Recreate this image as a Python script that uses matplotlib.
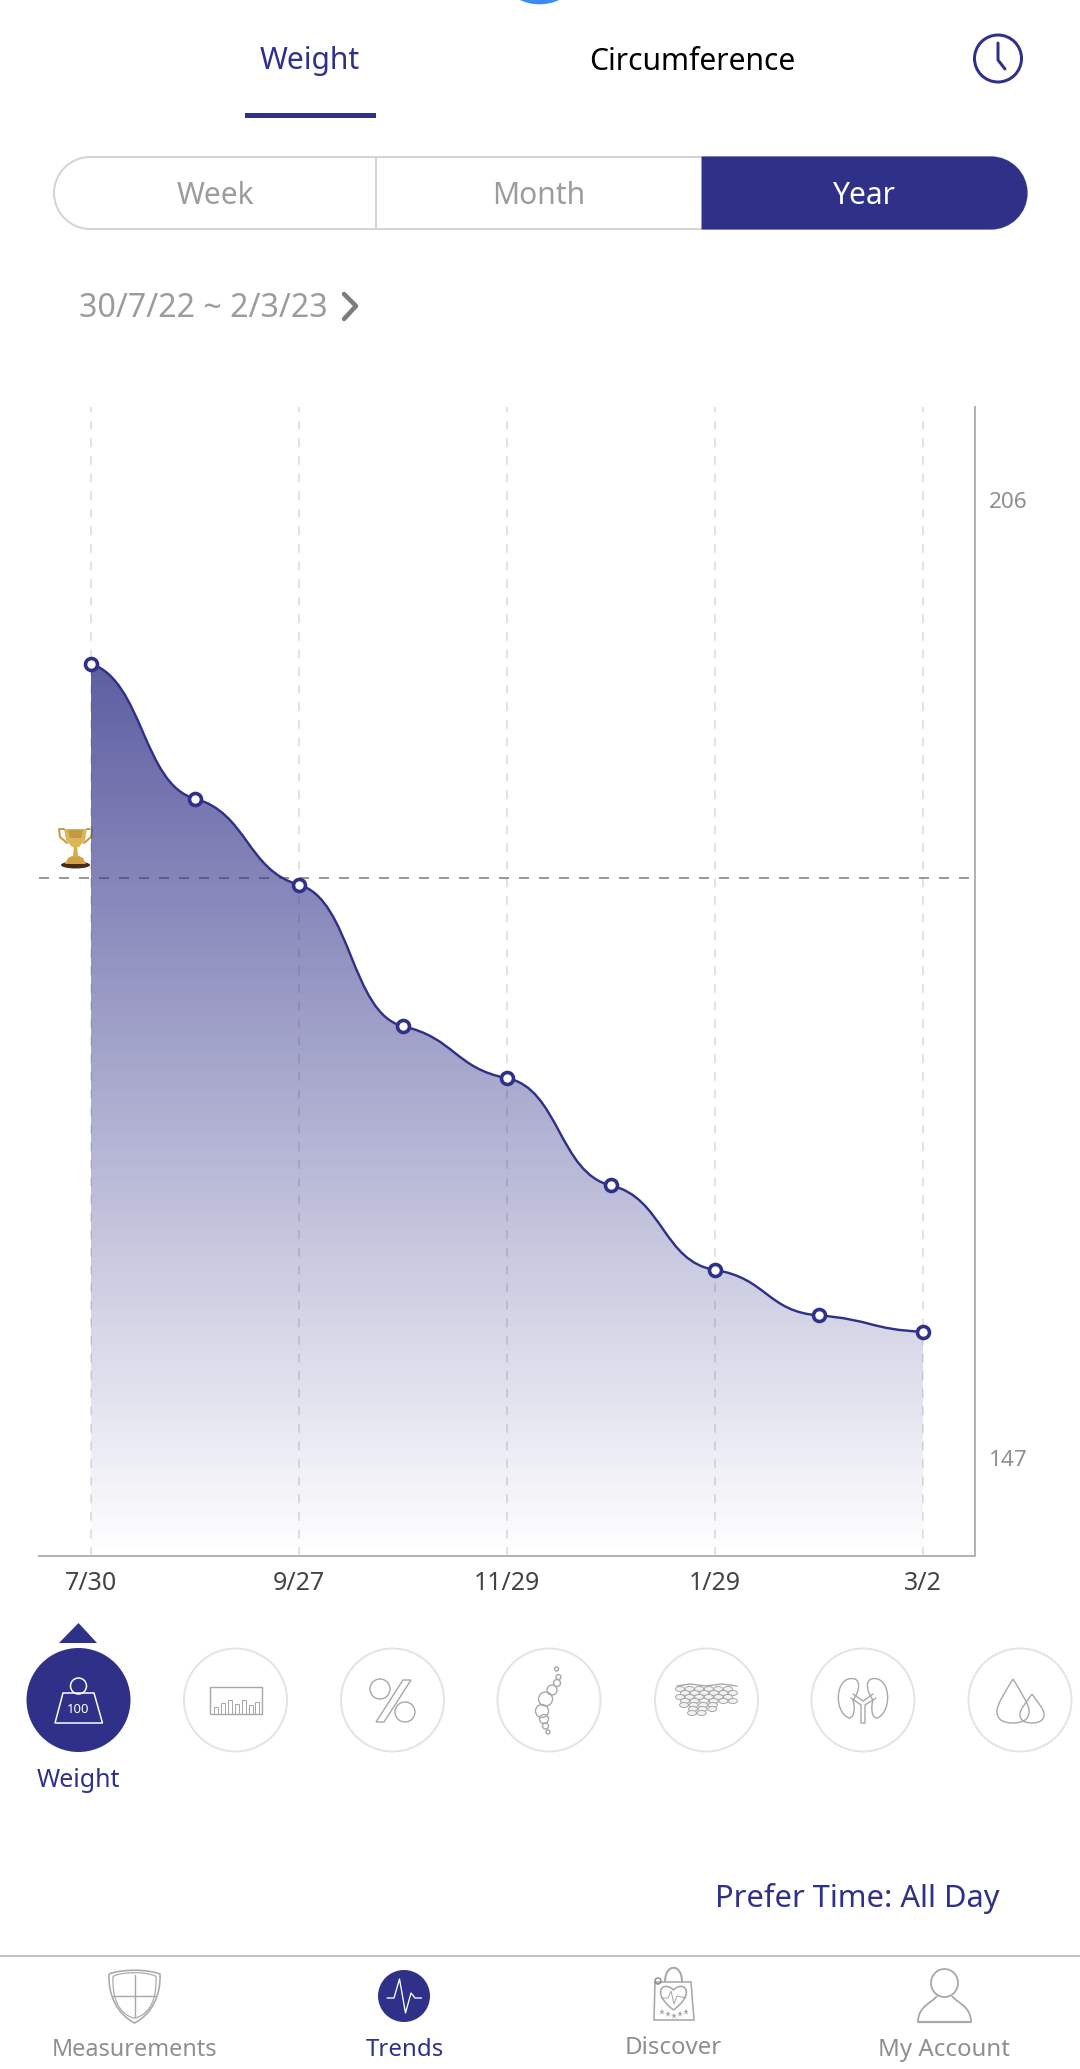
import numpy as np
import matplotlib
matplotlib.use('Agg')
import matplotlib.pyplot as plt
from matplotlib.patches import Circle, Ellipse, Polygon, PathPatch, Rectangle
from matplotlib.path import Path

plt.rcParams['font.family'] = ['Noto Sans', 'DejaVu Sans']

# chart data
dates = ['7/30', '', '9/27', '', '11/29', '', '1/29', '', '3/2']
weight = [195.9, 187.6, 182.3, 173.6, 170.4, 163.8, 158.6, 155.8, 154.8]
goal = 182.7
y_ticks = [147, 206]

tabs = ['Week', 'Month', 'Year']
nav_labels = ['Measurements', 'Trends', 'Discover', 'My Account']

navy = '#2f3088'
grey = '#8f8f8f'
line_grey = '#b4b4b4'
circle_grey = '#e4e4e4'
icon_grey = '#a8a8a8'

fig = plt.figure(figsize=(10.8, 20.69), dpi=100)

# whole page axes, in pixels, for the app chrome
ui = fig.add_axes([0, 0, 1, 1])
ui.set_xlim(0, 1080)
ui.set_ylim(2069, 0)
ui.axis('off')


def px(v):
    return v * 0.72


def label(x, y, s, size, color=grey, **kw):
    # Noto sits a little high when centred, so push it down
    ui.text(x, y + 2.5, s, fontsize=px(size), color=color, ha=kw.pop('ha', 'center'), va='center', **kw)


def stroke(xs, ys, color=icon_grey, w=1.4, **kw):
    ui.plot(xs, ys, color=color, lw=px(w), solid_capstyle='round', **kw)


def ring(x, y, r, color=icon_grey, w=1.4, face='none'):
    ui.add_patch(Circle((x, y), r, fc=face, ec=color, lw=px(w)))


def curve(verts, codes, fc='none', ec=icon_grey, w=1.4, **kw):
    ui.add_patch(PathPatch(Path(verts, codes), fc=fc, ec=ec, lw=px(w), **kw))


M, L, C, Z = Path.MOVETO, Path.LINETO, Path.CURVE4, Path.CLOSEPOLY

# top of the page
ui.add_patch(Circle((539.5, -42.5), 46.8, fc='#3a8cf5', ec='none'))
label(310, 58, 'Weight', 30, navy)
label(692, 60, 'Circumference', 30, 'black')
ui.add_patch(Rectangle((245, 113), 131, 5, fc=navy, ec='none'))
ring(998, 58.5, 23.5, navy, 3)
stroke([998, 998, 1005], [43, 60, 69], navy, 3)

# week / month / year switch
top, bot, left, right, k = 157, 229, 54, 1027, 36 * 0.55
pill = [(left + 36, top), (right - 36, top),
        (right - 36 + k * 1.0, top), (right, 193 - k), (right, 193),
        (right, 193 + k), (right - 36 + k, bot), (right - 36, bot),
        (left + 36, bot),
        (left + 36 - k, bot), (left, 193 + k), (left, 193),
        (left, 193 - k), (left + 36 - k, top), (left + 36, top)]
curve(pill, [M, L, C, C, C, C, C, C, L, C, C, C, C, C, C], ec='#d4d4d4', w=2)
stroke([376, 376], [top, bot], '#d4d4d4', 2)
curve([(702, top), (right - 36, top), (right - 36 + k, top), (right, 193 - k), (right, 193),
       (right, 193 + k), (right - 36 + k, bot), (right - 36, bot), (702, bot), (702, top)],
      [M, L, C, C, C, C, C, C, L, Z], fc=navy, ec=navy, w=1)
label(215, 194, tabs[0], 30, '#9c9c9c')
label(539, 194, tabs[1], 30, '#9c9c9c')
label(864, 194, tabs[2], 30, 'white')

label(79, 306, '30/7/22 ~ 2/3/23', 32.2, '#9c9c9c', ha='left')
stroke([344, 356, 344], [294, 306, 319], '#7c7c7c', 4.5)

# the chart itself
ax = fig.add_axes([39 / 1080, 1 - 1556 / 2069, (975 - 39) / 1080, (1556 - 407) / 2069])
ax.patch.set_alpha(0)
x = np.arange(len(weight))
y = np.array(weight)
y_low = 141.0
y_high = 211.7
ax.set_xlim(-0.5, 8.5)
ax.set_ylim(y_low, y_high)

for s in ['top', 'left']:
    ax.spines[s].set_visible(False)
for s in ['right', 'bottom']:
    ax.spines[s].set_color(line_grey)
    ax.spines[s].set_linewidth(px(2))

tick_pos = [i for i, d in enumerate(dates) if d]
ax.set_xticks(tick_pos, [dates[i] for i in tick_pos], fontsize=px(25), color='#444444')
ax.tick_params(axis='x', length=0, pad=px(15))
ax.yaxis.tick_right()
ax.set_yticks(y_ticks, [str(v) for v in y_ticks], fontsize=px(22.5), color=grey)
ax.tick_params(axis='y', length=0, pad=px(14))

ax.grid(axis='x', color='#dcdcdc', lw=px(1.6), dashes=(5.5, 5.5))
ax.set_axisbelow(True)
ax.axhline(goal, color='#9a9a9a', lw=px(2), dashes=(5, 5), zorder=1)

# smooth line: cubic segments that flatten out near every point
slope = np.gradient(y) * 0.25
verts = [(x[0], y[0])]
codes = [M]
for i in range(len(x) - 1):
    verts += [(x[i] + 0.5, y[i] + 0.5 * slope[i]),
              (x[i + 1] - 0.5, y[i + 1] - 0.5 * slope[i + 1]),
              (x[i + 1], y[i + 1])]
    codes += [C, C, C]
line = Path(verts, codes)
area = Path(verts + [(x[-1], y_low), (x[0], y_low), (x[0], y[0])], codes + [L, L, L])

shade = np.zeros((256, 1, 4))
shade[..., :3] = matplotlib.colors.to_rgb(navy)
shade[:, 0, 3] = np.linspace(0.78, 0, 256)
im = ax.imshow(shade, extent=(-0.5, 8.5, y_low, y[0]), origin='upper', aspect='auto', zorder=2)
im.set_clip_path(PathPatch(area, transform=ax.transData))
ax.set_xlim(-0.5, 8.5)
ax.set_ylim(y_low, y_high)

ax.add_patch(PathPatch(line, fc='none', ec=navy, lw=px(2.4), zorder=3))
ax.plot(x, y, ls='none', marker='o', ms=px(12), mfc='white', mec=navy, mew=px(3.6), zorder=4, clip_on=False)

# trophy next to the goal line
ui.add_patch(Ellipse((75.5, 865), 29, 7, fc='#4a2c14', ec='none', zorder=1))
ui.add_patch(Polygon([(65, 864), (68, 858), (72, 856), (79, 856), (83, 858), (86, 864)], fc='#d0a245', ec='none'))
ui.add_patch(Polygon([(74, 846), (77, 846), (78, 857), (73, 857)], fc='#d4a94f', ec='none'))
ui.add_patch(Polygon([(64, 829), (87, 829), (85, 840), (79, 847), (72, 847), (66, 840)], fc='#dcb45a', ec='none'))
ui.add_patch(Polygon([(68, 830), (83, 830), (81, 838), (70, 838)], fc='#c39a42', ec='none'))
stroke([64, 59, 60, 67], [829, 829, 837, 843], '#c9993d', 2)
stroke([87, 92, 91, 84], [829, 829, 837, 843], '#c9993d', 2)

# row of measurement icons
ui.add_patch(Polygon([(59, 1643), (78.5, 1623), (97, 1643)], fc=navy, ec='none'))
icon_x = [78.5, 235.5, 392.5, 549, 706.5, 863, 1020]
ui.add_patch(Circle((icon_x[0], 1700), 52, fc=navy, ec='none'))
for cx in icon_x[1:]:
    ring(cx, 1700, 51.5, circle_grey, 2)
label(78.5, 1778, 'Weight', 25, navy)

ring(78.5, 1686, 8, 'white', 1.5)
ui.add_patch(Polygon([(63, 1693), (94, 1693), (102.5, 1723), (55, 1723)], fc='none', ec='white', lw=px(1.5)))
label(78.5, 1707, '100', 13, 'white')

# body composition bars
ui.add_patch(Rectangle((210, 1687), 52, 27, fc='none', ec=icon_grey, lw=px(1.4)))
for bx, bh in zip([214, 221, 228, 235, 242, 249, 255], [7, 11, 14, 10, 14, 9, 12]):
    ui.add_patch(Rectangle((bx, 1714 - bh), 4, bh, fc='none', ec=icon_grey, lw=px(1)))

# percent
ring(380, 1689, 10)
ring(405, 1712, 10)
ui.add_patch(Polygon([(403, 1680), (411, 1680), (384, 1722), (376, 1722)], fc='none', ec=icon_grey, lw=px(1.4)))

# spine
for sx, sy, sr in [(556.5, 1669, 2), (558.5, 1677, 2.5), (557, 1683, 3.5), (552, 1690, 5), (545.5, 1699, 7),
                   (542, 1711, 6.5), (544, 1719, 4.5), (545.5, 1726, 3), (548, 1732, 2)]:
    ring(sx, sy, sr)

# fat cells
for r, fy in enumerate(range(1689, 1717, 4)):
    off = 0 if r % 2 == 0 else 5
    n = 6 if r < 4 else 8 - r
    start = 680 + off + (0 if r < 4 else (r - 3) * 4)
    for c in range(n):
        ui.add_patch(Ellipse((start + c * 9.6, fy), 9, 5, fc='#f2f2f2', ec=icon_grey, lw=px(1)))
stroke([677, 690, 706, 722, 737], [1686, 1684, 1686, 1684, 1686])

# kidneys
for sgn in [-1, 1]:
    cx = 863
    curve([(cx + sgn * 8, 1679), (cx + sgn * 28, 1674), (cx + sgn * 30, 1712), (cx + sgn * 14, 1718),
           (cx + sgn * 8, 1718), (cx + sgn * 8, 1706), (cx + sgn * 10, 1700),
           (cx + sgn * 4, 1692), (cx + sgn * 2, 1682), (cx + sgn * 8, 1679)],
          [M, C, C, C, C, C, C, C, C, C])
stroke([851, 861, 861, 865, 865, 876], [1698, 1705, 1723, 1723, 1705, 1698])
stroke([853, 863, 873], [1694, 1701, 1694])

# drops
for tx, ty, r, by in [(1013, 1679, 16, 1723), (1032, 1694, 12, 1723)]:
    curve([(tx, ty), (tx + r * 0.5, ty + (by - ty) * 0.3), (tx + r * 1.05, by - r * 1.1), (tx + r, by - r * 0.7),
           (tx + r, by - r * 0.1), (tx + r * 0.4, by), (tx, by),
           (tx - r * 0.4, by), (tx - r, by - r * 0.1), (tx - r, by - r * 0.7),
           (tx - r * 1.05, by - r * 1.1), (tx - r * 0.5, ty + (by - ty) * 0.3), (tx, ty)],
          [M, C, C, C, C, C, C, C, C, C, C, C, C])

label(857, 1896, 'Prefer Time: All Day', 30.8, navy)

# bottom navigation
stroke([0, 1080], [1956, 1956], line_grey, 1.6)

# shield
for inset, w in [(0, 1.6), (4, 1.2)]:
    curve([(109 + inset, 1974 + inset * 0.6), (122, 1969 + inset * 0.6), (147, 1969 + inset * 0.6), (160 - inset, 1974 + inset * 0.6),
           (161 - inset, 1995), (152, 2014), (134.5, 2023 - inset * 1.2),
           (117, 2014), (108 + inset, 1995), (109 + inset, 1974 + inset * 0.6)],
          [M, C, C, C, C, C, C, C, C, C], w=w)
stroke([134.5, 134.5], [1975, 2017], w=1.4)
stroke([113, 156], [1996, 1996], w=1.4)
label(135, 2048, nav_labels[0], 23.4)

# pulse
ui.add_patch(Circle((404, 1996), 26, fc=navy, ec='none'))
stroke([387, 394, 399.5, 405.5, 411, 415, 421.5], [1998, 1998, 1979, 2013, 1993, 1998, 1998], 'white', 1.3)
label(405, 2048, nav_labels[1], 24, navy)

# bag with a heart
ui.add_patch(Polygon([(655, 1982), (691, 1982), (694, 2020), (654, 2020)], fc='none', ec=icon_grey, lw=px(1.6)))
curve([(665, 1982), (665, 1963), (682, 1963), (682, 1982)], [M, C, C, C], w=2)
curve([(673.5, 2010), (650, 1992), (664, 1980), (673.5, 1990),
       (683, 1980), (697, 1992), (673.5, 2010)], [M, C, C, C, C, C, C], w=1.6)
stroke([661, 668, 671, 674, 677, 686], [1998, 1998, 1991, 2004, 1996, 1998], w=1)
ring(658, 1981, 3, '#888888', 1.4)
ui.plot([662, 668, 674, 680, 686], [2012, 2014, 2016, 2014, 2012], ls='none', marker='*', ms=px(7), color=icon_grey, mew=0)
label(673.5, 2046, nav_labels[2], 24)

# person
ui.add_patch(Ellipse((944.5, 1983), 27, 28, fc='none', ec=icon_grey, lw=px(1.8)))
curve([(918, 2022), (918, 2006), (932, 2003), (937, 1996)], [M, C, C, C], w=1.8)
curve([(971, 2022), (971, 2006), (957, 2003), (952, 1996)], [M, C, C, C], w=1.8)
stroke([918, 971], [2022, 2022], w=2.2)
label(944, 2048, nav_labels[3], 24)

fig.savefig('out.png', dpi=100, facecolor='white')
